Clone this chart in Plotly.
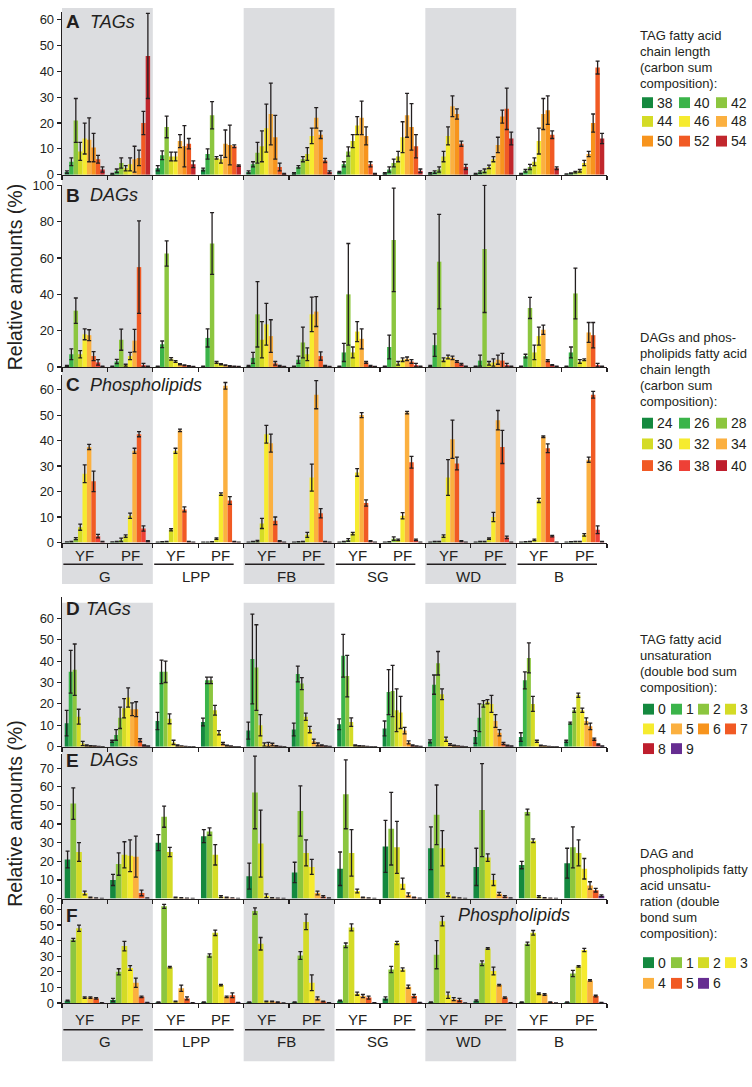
import numpy as np
import plotly.graph_objects as go

W, H = 752, 1087
FONT = "Liberation Sans, Arial, Helvetica, sans-serif"
INK = "#231f20"
GRAY = "#dcdde0"

locations = ["G", "LPP", "FB", "SG", "WD", "B"]
stages = ["YF", "PF"]
shaded_locations = ["G", "FB", "WD"]

# ---- series labels -------------------------------------------------------
chain_tag = ["38", "40", "42", "44", "46", "48", "50", "52", "54"]
chain_dp = ["24", "26", "28", "30", "32", "34", "36", "38", "40"]
unsat_tag = ["0", "1", "2", "3", "4", "5", "6", "7", "8", "9"]
unsat_dp = ["0", "1", "2", "3", "4", "5", "6"]

col_chain_tag = ["#14893f", "#3bb44a", "#8cc63f", "#d4db26", "#f6eb2f",
                 "#fbb040", "#f7941d", "#f15a24", "#c1272d"]
col_chain_dp = ["#14893f", "#3bb44a", "#8cc63f", "#d4db26", "#f6eb2f",
                "#fbb040", "#f15a24", "#ee4036", "#be1e2d"]
col_unsat_tag = ["#14893f", "#3bb44a", "#8cc63f", "#d4db26", "#f6eb2f",
                 "#fbb040", "#f7941d", "#f15a24", "#be1e2d", "#662d91"]
col_unsat_dp = ["#14893f", "#8cc63f", "#d4db26", "#f6eb2f", "#fbb040",
                "#f15a24", "#662d91"]

# rows: G-YF, G-PF, LPP-YF, LPP-PF, FB-YF, FB-PF, SG-YF, SG-PF, WD-YF, WD-PF, B-YF, B-PF
# ---- A: TAG chain length --------------------------------------------------
tag_chain_mean = [
    [1, 5, 21, 9, 14, 13.5, 10.5, 6, 2],
    [0.3, 1.5, 4.5, 2.5, 4, 6, 6.5, 20, 46],
    [2.5, 7.5, 18.5, 7, 7, 13, 11, 12, 4],
    [2, 8, 23, 6.5, 6, 12, 11.5, 11, 3.5],
    [1, 4, 8.5, 11, 18, 23.5, 14.5, 3, 0.3],
    [0.5, 3, 6, 8, 15, 22, 15.5, 5.5, 1],
    [1, 4, 9, 13, 19, 22, 15, 4, 0.3],
    [0.5, 2, 4.5, 7, 14.5, 23, 18.5, 11, 1.5],
    [0.5, 1, 2, 7, 15, 26.5, 23.5, 12, 3],
    [0.3, 1, 1.5, 3, 6, 11.5, 22.5, 25.5, 14],
    [0.3, 1.5, 3, 5, 13, 23.5, 25, 15.5, 2.5],
    [0.2, 0.5, 1, 1.5, 4.5, 8, 20, 41.5, 14],
]
tag_chain_err = [
    [0.5, 1.5, 8.5, 3.5, 6, 8.5, 5.5, 1.5, 1],
    [0.2, 0.7, 2, 1, 2.5, 5, 3, 4.5, 16.5],
    [1, 1.7, 4.2, 1.7, 1.7, 2.5, 8, 2, 1.3],
    [0.5, 2, 5.3, 0.5, 1.5, 5.3, 7.7, 0.5, 0.3],
    [0.5, 1, 4, 6, 9.3, 12, 8.5, 1.5, 0.2],
    [0.3, 0.5, 1, 2.5, 3, 4, 1.5, 0.8, 0.5],
    [0.3, 1, 1.8, 2.5, 3.5, 6.5, 3.5, 1, 0.2],
    [0.3, 1, 1.5, 2, 6, 8.5, 9, 4.5, 0.7],
    [0.3, 0.5, 1, 2, 3.5, 4, 2, 1, 1],
    [0.2, 0.5, 0.7, 0.7, 1, 3, 2.5, 8, 2.5],
    [0.2, 0.5, 1, 1.5, 5, 6, 5.5, 1.5, 0.5],
    [0.1, 0.2, 0.3, 0.5, 1, 1, 3.5, 2.5, 2],
]

# ---- B: DAG chain length --------------------------------------------------
dag_chain_mean = [
    [0.5, 7, 31, 7, 18, 17.5, 6, 2.5, 0.3],
    [0.3, 3, 15, 1, 6, 14.5, 55, 1, 0.3],
    [0.3, 12.5, 62.5, 4.5, 3, 1.5, 1, 0.5, 0.2],
    [0.3, 16, 68, 2.5, 1.5, 1, 0.5, 0.3, 0.2],
    [0.5, 5, 29, 15, 23.5, 17, 2, 0.5, 0.2],
    [0.3, 4, 13.5, 7, 29, 30.5, 6, 0.5, 0.2],
    [0.3, 8, 40, 8, 19.5, 15.5, 2.5, 0.5, 0.2],
    [0.3, 11, 70, 2, 4, 4.5, 3, 1, 0.3],
    [0.5, 12, 58, 4, 5.5, 5, 3, 1.5, 0.3],
    [0.3, 3.5, 65, 2, 2.5, 4, 3.5, 1, 0.3],
    [0.3, 6, 32.5, 8, 17, 20.5, 3.5, 1, 0.3],
    [0.3, 8, 40.5, 3, 4, 19, 17.5, 1, 0.3],
]
dag_chain_err = [
    [0.3, 3, 7, 2, 3, 3, 2.5, 1.5, 0.2],
    [0.2, 1.2, 5.8, 0.5, 2, 6.2, 25.5, 1, 0.2],
    [0.2, 1.8, 7, 0.7, 0.5, 0.3, 0.2, 0.2, 0.1],
    [0.2, 5, 17, 0.5, 0.3, 0.2, 0.2, 0.1, 0.1],
    [0.3, 3, 18, 10, 11.5, 9, 1, 0.3, 0.1],
    [0.2, 2, 8.5, 3.5, 9.5, 8.2, 2.3, 0.3, 0.1],
    [0.2, 5, 28, 3, 5.5, 5.5, 0.5, 0.3, 0.1],
    [0.2, 6.5, 28.5, 1, 1, 1, 1, 1, 0.2],
    [0.3, 6.2, 26, 1, 1, 1, 0.5, 0.5, 0.2],
    [0.2, 3, 35, 1, 2, 2.5, 4, 1, 0.2],
    [0.2, 1, 5.8, 4, 5, 2.5, 0.5, 0.3, 0.1],
    [0.2, 3, 14, 1, 0.5, 5.5, 7, 1, 0.2],
]

# ---- C: phospholipid chain length ----------------------------------------
pl_chain_mean = [
    [0.2, 0.3, 1.5, 6, 27, 37.5, 24, 2.5, 0.3],
    [0.2, 0.3, 1, 2.5, 10.5, 36, 42.5, 5.5, 0.5],
    [0.1, 0.2, 0.3, 5, 36, 44, 13, 0.3, 0.1],
    [0.1, 0.1, 0.2, 1.5, 19, 61.5, 16.5, 0.3, 0.1],
    [0.1, 0.3, 0.5, 7.5, 42.5, 39, 8.5, 0.5, 0.1],
    [0.1, 0.2, 0.3, 3, 25.5, 58, 11.5, 0.3, 0.1],
    [0.1, 0.3, 1, 3.5, 27.5, 50, 15.5, 0.5, 0.1],
    [0.1, 0.2, 1.5, 1, 10.5, 51, 31.5, 1, 0.1],
    [0.1, 0.3, 0.3, 2.5, 25.5, 40.5, 31, 0.5, 0.1],
    [0.1, 0.3, 0.3, 1.5, 10, 48, 37.5, 2, 0.1],
    [0.1, 0.2, 0.3, 1, 16.5, 41.5, 37, 2.5, 0.1],
    [0.1, 0.2, 0.3, 0.3, 3, 32.5, 58, 5, 0.3],
]
pl_chain_err = [
    [0.05, 0.1, 0.4, 1.2, 3.5, 1, 4, 0.7, 0.1],
    [0.05, 0.1, 0.7, 0.5, 1, 1, 1, 1, 0.2],
    [0.05, 0.1, 0.1, 0.4, 1, 0.5, 1, 0.1, 0.05],
    [0.05, 0.05, 0.1, 0.3, 0.5, 1.3, 1.5, 0.1, 0.05],
    [0.05, 0.1, 0.3, 2, 3.5, 3.5, 1.5, 0.2, 0.05],
    [0.05, 0.1, 0.1, 1, 5.3, 5.5, 1.8, 0.1, 0.05],
    [0.05, 0.1, 0.5, 0.5, 1.5, 1, 1.2, 0.2, 0.05],
    [0.05, 0.1, 0.7, 0.3, 1.2, 0.5, 2.3, 0.3, 0.05],
    [0.05, 0.1, 0.1, 0.5, 7, 7.5, 2.5, 0.2, 0.05],
    [0.05, 0.1, 0.1, 0.3, 1.8, 3.8, 6.5, 0.5, 0.05],
    [0.05, 0.1, 0.1, 0.3, 0.8, 0.3, 1.7, 0.3, 0.05],
    [0.05, 0.1, 0.1, 0.1, 0.5, 1, 1.3, 1.5, 0.1],
]

# ---- D: TAG unsaturation --------------------------------------------------
tag_unsat_mean = [
    [11, 35, 36, 14, 1.5, 0.5, 0.3, 0.2, 0.1, 0],
    [2.5, 5.5, 13.5, 18, 23, 17.5, 17.5, 3, 0.5, 0.2],
    [12, 35, 35, 13, 2, 0.5, 0.3, 0.1, 0, 0],
    [11.5, 31, 31, 17, 6.5, 1.5, 0.5, 0.2, 0, 0],
    [7.5, 41, 37, 10, 1, 1, 1, 0.3, 0.1, 0],
    [8, 34, 29.5, 14, 8, 2.5, 1, 0.5, 0.2, 0.1],
    [10.5, 42.5, 33, 11.5, 0.5, 0.3, 0.2, 0.1, 0, 0],
    [8.5, 25.5, 26, 17, 16, 7.5, 2, 0.5, 0.2, 0.1],
    [2.5, 29, 39, 24.5, 3.5, 1, 0.5, 0.3, 0.1, 0],
    [4.5, 13.5, 20, 21, 20, 12, 6.5, 1.5, 0.5, 0.2],
    [4.5, 31, 41.5, 20, 2.5, 0.5, 0.3, 0.1, 0, 0],
    [2.5, 11, 17, 24, 17, 12, 9.5, 3.5, 1, 0.2],
]
tag_unsat_err = [
    [6, 10, 12, 3.5, 1, 0.3, 0.2, 0.1, 0.05, 0],
    [0.5, 2.5, 5, 4.5, 4.5, 3, 3.5, 0.7, 0.3, 0.1],
    [4, 5.5, 5, 2.3, 1, 0.3, 0.1, 0.05, 0, 0],
    [1.8, 1.5, 1.5, 2.3, 1, 0.5, 0.2, 0.1, 0, 0],
    [4, 21, 20, 5, 0.8, 1, 0.6, 0.2, 0.05, 0],
    [3, 3.7, 2.8, 1.7, 1.5, 1, 0.7, 0.3, 0.1, 0.05],
    [2.5, 10, 9.7, 2, 0.3, 0.2, 0.1, 0.05, 0, 0],
    [3.5, 10.5, 12, 10, 7.5, 1.5, 0.7, 0.3, 0.1, 0.05],
    [0.7, 4.5, 5.5, 2.5, 1, 0.4, 0.2, 0.1, 0.05, 0],
    [3, 6.5, 1.5, 1, 4, 3, 1.5, 0.5, 0.2, 0.1],
    [2, 4, 7, 3.5, 0.5, 0.2, 0.1, 0.05, 0, 0],
    [0.5, 0.5, 1, 1, 1, 1.5, 1.5, 0.5, 0.3, 0.1],
]

# ---- E: DAG unsaturation --------------------------------------------------
dag_unsat_mean = [
    [21, 51, 25, 3, 0.5, 0.2, 0],
    [10, 18.5, 23.5, 23, 22.5, 3, 0.2],
    [30, 44, 25, 0.5, 0.3, 0.1, 0],
    [33.5, 36, 23.5, 1, 0.5, 0.3, 0],
    [12, 57, 29.5, 1.5, 0.3, 0.1, 0],
    [14, 47, 24.5, 17, 3, 1, 0.2],
    [16, 56, 24.5, 4, 0.5, 0.2, 0],
    [28, 37.5, 27.5, 8, 2, 0.5, 0.1],
    [27, 45, 27, 2, 0.5, 0.2, 0],
    [17, 47.5, 22, 10, 2.5, 1, 0.2],
    [18, 46.5, 31, 1, 0.3, 0.1, 0],
    [19, 27.5, 24.5, 16, 7, 4.5, 1.5],
]
dag_unsat_err = [
    [4.5, 8.5, 5, 1, 0.3, 0.1, 0],
    [3, 6, 7, 8.5, 11, 1.5, 0.1],
    [4.3, 5.7, 2.5, 0.3, 0.2, 0.05, 0],
    [3.5, 2, 5.5, 0.5, 0.3, 0.1, 0],
    [7, 19.5, 18, 1, 0.2, 0.05, 0],
    [5.5, 13.5, 7, 4, 1, 0.5, 0.1],
    [9, 18.5, 12.5, 1, 0.3, 0.1, 0],
    [14, 19.5, 14, 3, 1, 0.3, 0.1],
    [11.5, 16, 9.5, 1, 0.3, 0.1, 0],
    [10, 25, 2, 3, 0.8, 0.5, 0.1],
    [2, 1.5, 1, 0.5, 0.2, 0.1, 0],
    [8, 11, 7, 5.5, 2, 1, 0.5],
]

# ---- F: phospholipid unsaturation ----------------------------------------
pl_unsat_mean = [
    [1.5, 40.5, 48, 3.5, 3.5, 3, 0.2],
    [2, 20, 36.5, 22.5, 13, 4, 0.3],
    [0.5, 62, 23, 1, 9.5, 3, 0.2],
    [0.5, 30.5, 45, 11.5, 4, 5, 0.3],
    [0.5, 59, 38, 1, 1, 0.5, 0.1],
    [0.5, 30.5, 52, 13, 3, 1, 0.2],
    [1.5, 37, 48.5, 6, 4.5, 3.5, 0.2],
    [3, 21.5, 38.5, 21.5, 10.5, 4.5, 0.3],
    [0.5, 31, 52.5, 5, 2.5, 2, 0.1],
    [1.5, 25.5, 35, 20.5, 11.5, 3.5, 0.2],
    [0.5, 38, 45, 6, 5.5, 0.5, 0.1],
    [0.5, 19, 23.5, 34, 14.5, 4.5, 0.3],
]
pl_unsat_err = [
    [0.3, 1, 2, 0.5, 0.5, 0.5, 0.1],
    [1, 2, 3, 1.5, 3, 0.5, 0.1],
    [0.2, 1.3, 0.5, 0.3, 2, 1, 0.1],
    [0.2, 1, 1.7, 0.5, 0.5, 1.5, 0.1],
    [0.2, 2, 4, 0.3, 0.3, 0.2, 0.05],
    [0.2, 2.5, 5, 5, 1, 0.3, 0.1],
    [0.3, 1.5, 2.3, 1, 1, 1, 0.1],
    [1, 2, 1, 1, 1, 1, 0.1],
    [0.2, 9, 3, 2, 1, 1, 0.05],
    [0.5, 1.5, 0.5, 2.5, 0.5, 0.5, 0.1],
    [0.2, 1, 1.5, 0.5, 0.5, 0.2, 0.05],
    [0.2, 2, 0.5, 1, 0.5, 0.5, 0.1],
]

# ---- helpers ---------------------------------------------------------------
def pxx(p):
    return p / W


def pxy(p):
    return 1 - p / H


X_LEFT, X_RIGHT = 62, 607
n_groups = len(locations) * len(stages)
group_pos = list(range(n_groups))
boundaries = [g - 0.5 for g in range(n_groups + 1)]

panels = [
    dict(letter="A", title="TAGs", mean=tag_chain_mean, err=tag_chain_err,
         series=chain_tag, colors=col_chain_tag, top=5, bottom=170, ymax=63.05,
         ticks=[0, 10, 20, 30, 40, 50, 60], label_y=15, title_x=88),
    dict(letter="B", title="DAGs", mean=dag_chain_mean, err=dag_chain_err,
         series=chain_dp, colors=col_chain_dp, top=180, bottom=365, ymax=100.5,
         ticks=[0, 20, 40, 60, 80, 100], label_y=191, title_x=88),
    dict(letter="C", title="Phospholipids", mean=pl_chain_mean, err=pl_chain_err,
         series=chain_dp, colors=col_chain_dp, top=373, bottom=543, ymax=65.8,
         ticks=[0, 10, 20, 30, 40, 50, 60], label_y=383, title_x=88),
    dict(letter="D", title="TAGs", mean=tag_unsat_mean, err=tag_unsat_err,
         series=unsat_tag, colors=col_unsat_tag, top=598, bottom=750, ymax=70.1,
         ticks=[0, 10, 20, 30, 40, 50, 60], label_y=610, title_x=84),
    dict(letter="E", title="DAGs", mean=dag_unsat_mean, err=dag_unsat_err,
         series=unsat_dp, colors=col_unsat_dp, top=757, bottom=904, ymax=77.9,
         ticks=[0, 10, 20, 30, 40, 50, 60, 70], label_y=764, title_x=88),
    dict(letter="F", title="Phospholipids", mean=pl_unsat_mean, err=pl_unsat_err,
         series=unsat_dp, colors=col_unsat_dp, top=907, bottom=1010, ymax=65.1,
         ticks=[0, 10, 20, 30, 40, 50, 60], label_y=921, title_x=456),
]

fig = go.Figure()
annotations = []
shapes = []
layout_axes = {}

for i, p in enumerate(panels):
    sfx = "" if i == 0 else str(i + 1)
    xa, ya = "x" + sfx, "y" + sfx
    mean = np.array(p["mean"], dtype=float).T
    err = np.array(p["err"], dtype=float).T
    for s, name in enumerate(p["series"]):
        fig.add_trace(go.Bar(
            x=group_pos, y=mean[s], name=name, xaxis=xa, yaxis=ya,
            marker=dict(color=p["colors"][s], line=dict(width=0)),
            error_y=dict(type="data", array=err[s], visible=True,
                         color=INK, thickness=1.3, width=2),
            showlegend=False,
        ))
    layout_axes["xaxis" + sfx] = dict(
        domain=[pxx(X_LEFT), pxx(X_RIGHT)], range=[-0.5, n_groups - 0.5],
        anchor=ya, tickmode="array", tickvals=boundaries, showticklabels=False,
        ticks="outside", ticklen=4, tickwidth=1.2, tickcolor=INK,
        showline=True, linecolor=INK, linewidth=1.3, showgrid=False,
        zeroline=False, fixedrange=True,
    )
    layout_axes["yaxis" + sfx] = dict(
        domain=[pxy(p["bottom"]), pxy(p["top"])], range=[0, p["ymax"]],
        anchor=xa, tickmode="array", tickvals=p["ticks"],
        ticks="outside", ticklen=4, tickwidth=1.2, tickcolor=INK,
        showline=True, linecolor=INK, linewidth=1.3, showgrid=False,
        zeroline=False, tickfont=dict(family=FONT, size=13, color=INK),
        fixedrange=True,
    )
    # panel letter + title
    annotations.append(dict(
        text="<b>%s</b>" % p["letter"], x=pxx(64), y=pxy(p["label_y"]),
        xref="paper", yref="paper", xanchor="left", yanchor="middle",
        showarrow=False, font=dict(family=FONT, size=19, color=INK)))
    annotations.append(dict(
        text="<i>%s</i>" % p["title"], x=pxx(p["title_x"]), y=pxy(p["label_y"]),
        xref="paper", yref="paper", xanchor="left", yanchor="middle",
        showarrow=False, font=dict(family=FONT, size=18, color=INK)))

# ---- shaded locations + category labels ------------------------------------
blocks = [dict(top=1, bottom=585, stage_y=556, line_y=565, loc_y=577),
          dict(top=604, bottom=1069, stage_y=1027, line_y=1037, loc_y=1049)]
for blk in blocks:
    for k, loc in enumerate(locations):
        x0 = 2 * k - 0.5
        if loc in shaded_locations:
            shapes.append(dict(type="rect", xref="x", yref="paper",
                               x0=x0, x1=x0 + 2, y0=pxy(blk["bottom"]), y1=pxy(blk["top"]),
                               fillcolor=GRAY, line=dict(width=0), layer="below"))
        for j, st in enumerate(stages):
            annotations.append(dict(
                text=st, x=2 * k + j, y=pxy(blk["stage_y"]), xref="x", yref="paper",
                xanchor="center", yanchor="middle", showarrow=False,
                font=dict(family=FONT, size=15, color=INK)))
        shapes.append(dict(type="line", xref="x", yref="paper",
                           x0=x0 + 0.03, x1=x0 + 1.78,
                           y0=pxy(blk["line_y"]), y1=pxy(blk["line_y"]),
                           line=dict(color=INK, width=1.5)))
        annotations.append(dict(
            text=loc, x=2 * k + 0.45, y=pxy(blk["loc_y"]), xref="x", yref="paper",
            xanchor="center", yanchor="middle", showarrow=False,
            font=dict(family=FONT, size=15, color=INK)))

# ---- y titles ----------------------------------------------------------------
for cy in (274, 818):
    annotations.append(dict(
        text="Relative amounts (%)", x=pxx(15), y=pxy(cy), xref="paper", yref="paper",
        xanchor="center", yanchor="middle", textangle=-90, showarrow=False,
        font=dict(family=FONT, size=19.5, color=INK)))

# ---- legends (text blocks with colour keys) ----------------------------------
legends = [
    dict(lines=["TAG fatty acid", "chain length", "(carbon sum", "composition):"],
         line_y0=29, labels=chain_tag, colors=col_chain_tag, ncol=3,
         cols=[642, 679, 716], rows=[97, 116, 136]),
    dict(lines=["DAGs and phos-", "pholipids fatty acid", "chain length",
                "(carbon sum", "composition):"],
         line_y0=335, labels=chain_dp, colors=col_chain_dp, ncol=3,
         cols=[642, 679, 716], rows=[422, 443, 465]),
    dict(lines=["TAG fatty acid", "unsaturation", "(double bod sum", "composition):"],
         line_y0=641, labels=unsat_tag, colors=col_unsat_tag, ncol=4,
         cols=[643, 671, 698, 725], rows=[712, 732, 752]),
    dict(lines=["DAG and", "phospholipids fatty", "acid unsatu-", "ration (double",
                "bond sum", "composition):"],
         line_y0=858, labels=unsat_dp, colors=col_unsat_dp, ncol=4,
         cols=[643, 671, 698, 725], rows=[969, 990]),
]
for lg in legends:
    for li, txt in enumerate(lg["lines"]):
        annotations.append(dict(
            text=txt, x=pxx(638), y=pxy(lg["line_y0"] + 16.3 * li),
            xref="paper", yref="paper", xanchor="left", yanchor="middle",
            showarrow=False, font=dict(family=FONT, size=13, color=INK)))
    for n, (lab, col) in enumerate(zip(lg["labels"], lg["colors"])):
        r, c = divmod(n, lg["ncol"])
        sx, sy = lg["cols"][c], lg["rows"][r]
        shapes.append(dict(type="rect", xref="paper", yref="paper",
                           x0=pxx(sx), x1=pxx(sx + 11), y0=pxy(sy + 5.5), y1=pxy(sy - 5.5),
                           fillcolor=col, line=dict(width=0)))
        annotations.append(dict(
            text=lab, x=pxx(sx + 13), y=pxy(sy), xref="paper", yref="paper",
            xanchor="left", yanchor="middle", showarrow=False,
            font=dict(family=FONT, size=14, color=INK)))

fig.update_layout(
    width=W, height=H, margin=dict(l=0, r=0, t=0, b=0),
    paper_bgcolor="white", plot_bgcolor="rgba(0,0,0,0)",
    barmode="group", bargap=0.12, bargroupgap=0,
    font=dict(family=FONT, color=INK),
    showlegend=False, annotations=annotations, shapes=shapes,
    **layout_axes,
)

# remove the browser's default page margin so the figure sits at the page origin
fig.write_html(
    "out.html",
    config={"displayModeBar": False, "staticPlot": True},
    post_script="document.body.style.margin='0';document.body.style.overflow='hidden';",
)
